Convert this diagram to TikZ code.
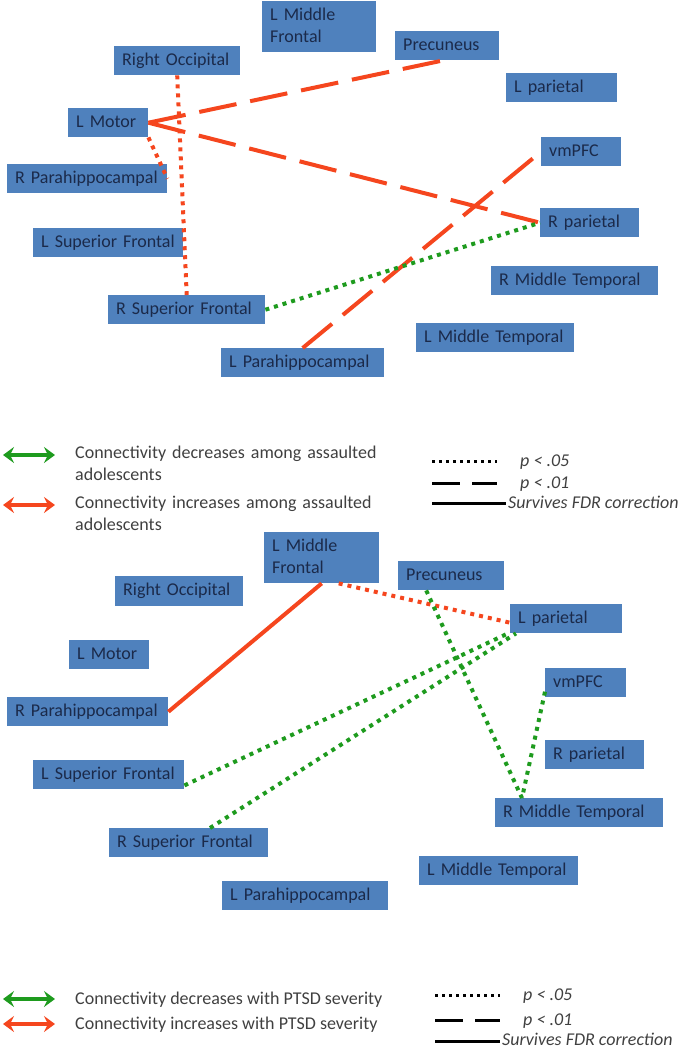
\documentclass[tikz,border=0pt]{standalone}
\usepackage{fontspec}
\setmainfont{Carlito}
\usepackage{tikz}
\usetikzlibrary{arrows,arrows.meta}

\definecolor{boxblue}{HTML}{4F81BD}
\definecolor{boxtext}{HTML}{1B2A4A}
\definecolor{incred}{HTML}{F5461E}
\definecolor{decgreen}{HTML}{1E9B1E}
\definecolor{legtext}{HTML}{404040}

\begin{document}
\begin{tikzpicture}[x=1pt,y=-1pt,>={Stealth[length=11pt,width=16pt,inset=4pt]},
    region/.style={rectangle,fill=boxblue,text=boxtext,anchor=north west,align=left,
      inner xsep=8pt,inner ysep=0pt,minimum height=29pt,text height=13pt,text depth=4pt,
      font=\fontsize{18}{22}\selectfont},
    incr/.style={draw=incred},
    decr/.style={draw=decgreen},
    p05/.style={line width=4pt,dash pattern=on 4pt off 5pt},
    p01/.style={line width=4pt,dash pattern=on 38pt off 14pt},
    fdr/.style={line width=4pt},
    legend/.style={anchor=base west,align=left,text=legtext,inner sep=0pt,
      font=\fontsize{18}{22}\selectfont},
    sig/.style={legend,font=\fontsize{18}{22}\selectfont\itshape},
    key/.style={line width=3pt,black}]

  \useasboundingbox (0,0) rectangle (689,1050);

  % assaulted vs. non-assaulted
  \node[region,text width=98pt,minimum height=51pt,text depth=26pt] (lmf) at (262,1) {L~Middle\\Frontal};
  \node[region,text width=110pt] (rocc) at (114,46) {Right~Occipital};
  \node[region,text width=64pt] (lmot) at (68,108) {L~Motor};
  \node[region,text width=144pt] (rpara) at (7,164) {R~Parahippocampal};
  \node[region,text width=134pt] (lsup) at (33,228) {L~Superior~Frontal};
  \node[region,text width=141pt] (rsup) at (108,295) {R~Superior~Frontal};
  \node[region,text width=147pt] (lpara) at (221,348) {L~Parahippocampal};
  \node[region,text width=88pt] (prec) at (395,31) {Precuneus};
  \node[region,text width=95pt] (lpar) at (506,73) {L~parietal};
  \node[region,text width=64pt] (vmpfc) at (541,137) {vmPFC};
  \node[region,text width=83pt] (rpar) at (540,208) {R~parietal};
  \node[region,text width=151pt] (rmt) at (491,266) {R~Middle~Temporal};
  \node[region,text width=142pt] (lmt) at (416,323) {L~Middle~Temporal};

  \path
    (lmot.east) edge[incr,p01] ([xshift=-4pt]prec.south)
    (lmot.east) edge[incr,p01] (rpar.west)
    (lpara.north) edge[incr,p01] (vmpfc.west)
    (rocc.south) edge[incr,p05] (rsup.north)
    (lmot.south east) edge[incr,p05] (rpara.east)
    (rsup.east) edge[decr,p05] (rpar.west);

  \coordinate (gA1) at (3,455);
  \coordinate (gB1) at (55,455);
  \coordinate (rA1) at (3,505);
  \coordinate (rB1) at (55,505);
  \draw[<->,decgreen,line width=3.5pt] (gA1) -- (gB1);
  \draw[<->,incred,line width=3.5pt] (rA1) -- (rB1);
  \node[legend,text width=330pt] (dec1) at (75,458) {Connectivity decreases among assaulted\\adolescents};
  \node[legend,text width=330pt] (inc1) at (75,508) {Connectivity increases among assaulted\\adolescents};

  \coordinate (kA1) at (432,461);
  \coordinate (kB1) at (497,461);
  \coordinate (kA2) at (432,483);
  \coordinate (kB2) at (497,483);
  \coordinate (kA3) at (432,503);
  \coordinate (kB3) at (506,503);
  \draw[key,dash pattern=on 3pt off 4pt] (kA1) -- (kB1);
  \draw[key,dash pattern=on 28pt off 12pt] (kA2) -- (kB2);
  \draw[key] (kA3) -- (kB3);
  \node[sig] (sig1) at (520,466) {p < .05};
  \node[sig] (sig2) at (520,488) {p < .01};
  \node[sig] (sig3) at (508,508) {Survives FDR correction};

  % PTSD severity
  \node[region,text width=99pt,minimum height=51pt,text depth=26pt] (lmfB) at (264,532) {L~Middle\\Frontal};
  \node[region,text width=112pt,minimum height=30pt] (roccB) at (115,576) {Right~Occipital};
  \node[region,text width=64pt] (lmotB) at (69,640) {L~Motor};
  \node[region,text width=145pt] (rparaB) at (7,697) {R~Parahippocampal};
  \node[region,text width=135pt] (lsupB) at (33,760) {L~Superior~Frontal};
  \node[region,text width=143pt] (rsupB) at (109,828) {R~Superior~Frontal};
  \node[region,text width=150pt] (lparaB) at (222,881) {L~Parahippocampal};
  \node[region,text width=90pt] (precB) at (398,561) {Precuneus};
  \node[region,text width=96pt] (lparB) at (510,604) {L~parietal};
  \node[region,text width=65pt] (vmpfcB) at (545,668) {vmPFC};
  \node[region,text width=83pt] (rparB) at (545,740) {R~parietal};
  \node[region,text width=152pt] (rmtB) at (495,798) {R~Middle~Temporal};
  \node[region,text width=143pt] (lmtB) at (419,856) {L~Middle~Temporal};

  \path
    (lmfB.south) edge[incr,fdr] (rparaB.east)
    ([xshift=17pt]lmfB.south) edge[incr,p05] ([yshift=-4pt]lparB.west)
    ([xshift=-25pt]precB.south) edge[decr,p05] ([xshift=27pt]rmtB.north west)
    ([yshift=-9pt]vmpfcB.west) edge[decr,p05] ([xshift=27pt]rmtB.north west)
    ([yshift=4pt]lsupB.south east) edge[decr,p05] ([xshift=-2pt]lparB.south west)
    ([xshift=101pt]rsupB.north west) edge[decr,p05] ([xshift=6pt]lparB.south west);

  \coordinate (gA2) at (3,999);
  \coordinate (gB2) at (55,999);
  \coordinate (rA2) at (3,1024);
  \coordinate (rB2) at (55,1024);
  \draw[<->,decgreen,line width=3.5pt] (gA2) -- (gB2);
  \draw[<->,incred,line width=3.5pt] (rA2) -- (rB2);
  \node[legend] (dec2) at (75,1004) {Connectivity decreases with PTSD severity};
  \node[legend] (inc2) at (75,1029) {Connectivity increases with PTSD severity};

  \coordinate (kA4) at (435,995);
  \coordinate (kB4) at (500,995);
  \coordinate (kA5) at (435,1020);
  \coordinate (kB5) at (500,1020);
  \coordinate (kA6) at (435,1041);
  \coordinate (kB6) at (500,1041);
  \draw[key,dash pattern=on 3pt off 4pt] (kA4) -- (kB4);
  \draw[key,dash pattern=on 28pt off 12pt] (kA5) -- (kB5);
  \draw[key] (kA6) -- (kB6);
  \node[sig] (sig4) at (523,1000) {p < .05};
  \node[sig] (sig5) at (523,1025) {p < .01};
  \node[sig] (sig6) at (502,1045) {Survives FDR correction};
\end{tikzpicture}
\end{document}
